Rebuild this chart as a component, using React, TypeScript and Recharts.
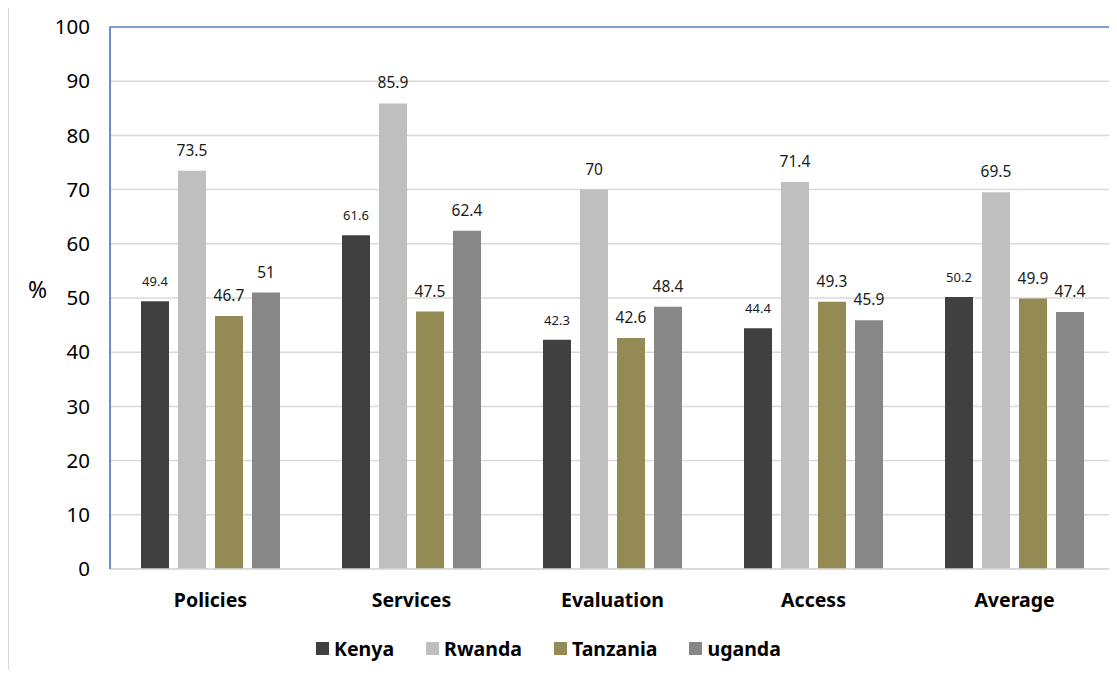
import React from 'react';
import { BarChart, Bar, XAxis, YAxis, CartesianGrid, Legend, LabelList, ReferenceArea } from 'recharts';

const categories = ['Policies', 'Services', 'Evaluation', 'Access', 'Average'];
const kenya = [49.4, 61.6, 42.3, 44.4, 50.2];
const rwanda = [73.5, 85.9, 70, 71.4, 69.5];
const tanzania = [46.7, 47.5, 42.6, 49.3, 49.9];
const uganda = [51, 62.4, 48.4, 45.9, 47.4];
const yTicks = [0, 10, 20, 30, 40, 50, 60, 70, 80, 90, 100];

const seriesNames = ['Kenya', 'Rwanda', 'Tanzania', 'uganda'];
const seriesColors = ['#404040', '#BFBFBF', '#948A54', '#878787'];

const data = categories.map((name, i) => ({
  name,
  Kenya: kenya[i],
  Rwanda: rwanda[i],
  Tanzania: tanzania[i],
  uganda: uganda[i],
}));

const FONT = '"Noto Sans", "Open Sans", sans-serif';
const BLUE = '#5A8AC6';
const GRID = '#D9D9D9';

const renderLegend = (props: any) => {
  const payload = props.payload || [];
  return (
    <div style={{ display: 'flex', alignItems: 'center', fontFamily: FONT }}>
      {payload.map((p: any) => (
        <div key={p.value} style={{ display: 'flex', alignItems: 'center', marginRight: 32 }}>
          <div style={{ width: 13, height: 13, background: p.color, marginRight: 5 }} />
          <span style={{ fontWeight: 700, fontSize: 19.5, color: '#000' }}>{p.value}</span>
        </div>
      ))}
    </div>
  );
};

const PlotFrame = (p: any) => {
  const { x, y, width, height } = p;
  if (x == null || y == null) return null;
  return (
    <path
      d={`M${x},${y + height} V${y} H${x + width} V${y + height}`}
      stroke={BLUE}
      strokeWidth={1.5}
      fill="none"
    />
  );
};

export default function App() {
  return (
    <div style={{ position: 'relative', width: 1109, height: 662, overflow: 'visible' }}>
      <style>{'html,body{overflow:hidden;}'}</style>
      <div
        style={{
          position: 'absolute',
          top: -1,
          left: 0,
          width: 1109,
          height: 663,
          borderTop: `1.5px solid ${GRID}`,
          borderLeft: `1.5px solid ${GRID}`,
          boxSizing: 'border-box',
          pointerEvents: 'none',
        }}
      />
      <BarChart
        width={1109}
        height={662}
        data={data}
        margin={{ top: 19, right: 2, left: 0, bottom: 0 }}
        barSize={28}
        barGap={9}
      >
        <CartesianGrid vertical={false} stroke={GRID} strokeWidth={1.5} />
        <XAxis
          dataKey="name"
          height={101}
          axisLine={{ stroke: GRID, strokeWidth: 1.5 }}
          tickLine={false}
          tickSize={0}
          tickMargin={24}
          tick={{ fontFamily: FONT, fontWeight: 700, fontSize: 19.5, fill: '#000' }}
        />
        <YAxis
          width={102}
          domain={[0, 100]}
          ticks={yTicks}
          interval={0}
          axisLine={{ stroke: BLUE, strokeWidth: 1.5 }}
          tickLine={false}
          tickSize={0}
          tickMargin={20}
          tick={{ fontFamily: FONT, fontSize: 20.5, fill: '#000' }}
          label={{
            value: '%',
            position: 'insideLeft',
            offset: 20,
            dy: -8,
            style: { fontFamily: FONT, fontSize: 23, fill: '#000', textAnchor: 'start' },
          }}
        />
        <ReferenceArea
          x1={categories[0]}
          x2={categories[categories.length - 1]}
          y1={0}
          y2={100}
          ifOverflow="visible"
          shape={PlotFrame}
        />
        <Legend
          content={renderLegend}
          wrapperStyle={{ top: 627, left: 308, width: 'auto', height: 0, overflow: 'visible' }}
        />
        {seriesNames.map((s, i) => (
          <Bar key={s} dataKey={s} fill={seriesColors[i]} isAnimationActive={false}>
            <LabelList
              dataKey={s}
              position="top"
              offset={15}
              style={{ fontFamily: FONT, fontSize: i === 0 ? 13 : 15.5, fill: '#1a1a1a' }}
            />
          </Bar>
        ))}
      </BarChart>
    </div>
  );
}
